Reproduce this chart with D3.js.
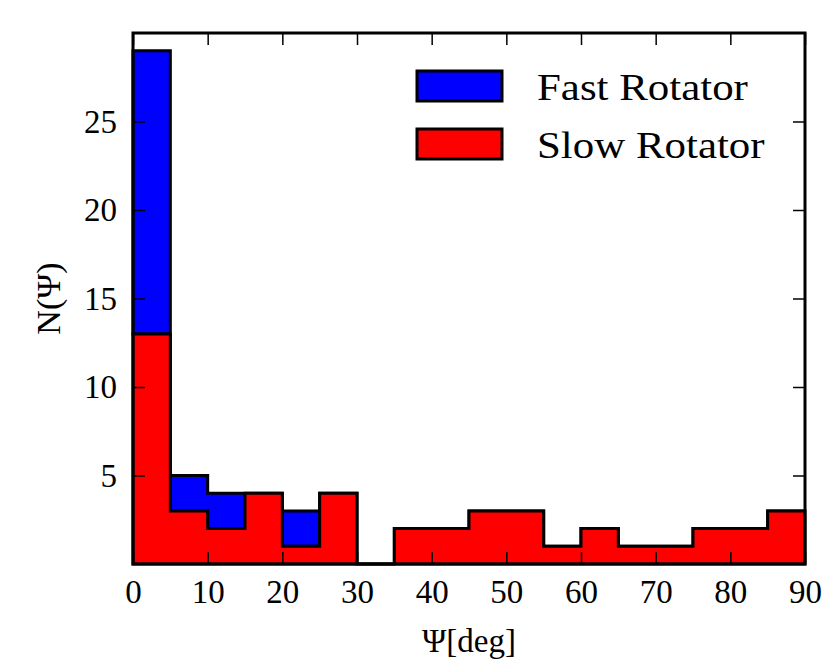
<!DOCTYPE html>
<html>
<head>
<meta charset="utf-8">
<script src="https://cdn.jsdelivr.net/npm/d3@7"></script>
<style>
  body { margin: 0; background: #fff; }
  svg text { font-family: "Liberation Serif", "DejaVu Serif", serif; fill: #000; }
  .tick line { stroke: #000; stroke-width: 1.5; }
</style>
</head>
<body>
<div id="chart"></div>
<script>
// Bin edges (deg) and counts per bin
const binEdges = [0, 5, 10, 15, 20, 25, 30, 35, 40, 45, 50, 55, 60, 65, 70, 75, 80, 85, 90];
const slowCounts = [13, 3, 2, 4, 1, 4, 0, 2, 2, 3, 3, 1, 2, 1, 1, 2, 2, 3];
const fastCounts = [16, 2, 2, 0, 2, 0, 0, 0, 0, 0, 0, 0, 0, 0, 0, 0, 0, 0];
const xTicks = [0, 10, 20, 30, 40, 50, 60, 70, 80, 90];
const yTicks = [5, 10, 15, 20, 25];
const seriesNames = ['Fast Rotator', 'Slow Rotator'];
const seriesColors = ['#0000ff', '#ff0000'];

class StackedHist {
  constructor(_config) {
    this.config = {
      parentElement: _config.parentElement,
      containerWidth: 831,
      containerHeight: 664,
      margin: { top: 33, right: 26, bottom: 100, left: 133 }
    };
    this.initVis();
  }

  initVis() {
    let vis = this;
    vis.width = vis.config.containerWidth - vis.config.margin.left - vis.config.margin.right;
    vis.height = vis.config.containerHeight - vis.config.margin.top - vis.config.margin.bottom;

    vis.svg = d3.select(vis.config.parentElement).append('svg')
      .attr('width', vis.config.containerWidth)
      .attr('height', vis.config.containerHeight);

    vis.chart = vis.svg.append('g')
      .attr('transform', `translate(${vis.config.margin.left},${vis.config.margin.top})`);

    vis.xScale = d3.scaleLinear().domain([0, 90]).range([0, vis.width]);
    vis.yScale = d3.scaleLinear().domain([0, 30]).range([vis.height, 0]);

    vis.renderVis();
  }

  renderVis() {
    let vis = this;

    // stack: slow at bottom, fast on top
    const rows = binEdges.map((e, i) => {
      const j = Math.min(i, slowCounts.length - 1);
      return { x: e, slow: slowCounts[j], fast: fastCounts[j] };
    });

    const area = (lo, hi) => d3.area()
      .curve(d3.curveStepAfter)
      .x(d => vis.xScale(d.x))
      .y0(d => vis.yScale(lo(d)))
      .y1(d => vis.yScale(hi(d)));

    vis.chart.append('path')
      .datum(rows)
      .attr('d', area(d => d.slow, d => d.slow + d.fast))
      .attr('fill', seriesColors[0])
      .attr('stroke', '#000')
      .attr('stroke-width', 3)
      .attr('stroke-linejoin', 'miter');

    vis.chart.append('path')
      .datum(rows)
      .attr('d', area(d => 0, d => d.slow))
      .attr('fill', seriesColors[1])
      .attr('stroke', '#000')
      .attr('stroke-width', 3)
      .attr('stroke-linejoin', 'miter');

    // axes, ticks pointing inward on all four sides
    const tickLen = 12;
    vis.chart.append('g')
      .attr('transform', `translate(0,${vis.height})`)
      .call(d3.axisBottom(vis.xScale).tickValues(xTicks).tickSize(-tickLen).tickPadding(16))
      .call(g => g.select('.domain').remove())
      .selectAll('text').attr('font-size', 33).attr('font-family', null);

    vis.chart.append('g')
      .call(d3.axisTop(vis.xScale).tickValues(xTicks).tickSize(-tickLen).tickFormat(''))
      .call(g => g.select('.domain').remove());

    vis.chart.append('g')
      .call(d3.axisLeft(vis.yScale).tickValues(yTicks).tickSize(-tickLen).tickPadding(16))
      .call(g => g.select('.domain').remove())
      .selectAll('text').attr('font-size', 33).attr('font-family', null);

    vis.chart.append('g')
      .attr('transform', `translate(${vis.width},0)`)
      .call(d3.axisRight(vis.yScale).tickValues(yTicks).tickSize(-tickLen).tickFormat(''))
      .call(g => g.select('.domain').remove());

    vis.chart.selectAll('.tick line').attr('stroke', '#000').attr('stroke-width', 1.5);

    // frame
    vis.chart.append('rect')
      .attr('width', vis.width)
      .attr('height', vis.height)
      .attr('fill', 'none')
      .attr('stroke', '#000')
      .attr('stroke-width', 3);

    // axis labels
    vis.svg.append('text')
      .attr('x', vis.config.margin.left + vis.width / 2)
      .attr('y', 652)
      .attr('text-anchor', 'middle')
      .attr('font-size', 33)
      .text('Ψ[deg]');

    vis.svg.append('text')
      .attr('transform', `translate(60,${vis.config.margin.top + vis.height / 2}) rotate(-90)`)
      .attr('text-anchor', 'middle')
      .attr('font-size', 34)
      .text('N(Ψ)');

    // legend (text stretched a bit to match the wider serif of the original)
    const legend = vis.svg.append('g').attr('transform', 'translate(417,71)');
    seriesNames.forEach((name, i) => {
      const row = legend.append('g').attr('transform', `translate(0,${i * 58})`);
      row.append('rect')
        .attr('width', 85).attr('height', 30)
        .attr('fill', seriesColors[i])
        .attr('stroke', '#000').attr('stroke-width', 3);
      row.append('text')
        .attr('transform', 'translate(120,29) scale(1.16,1)')
        .attr('font-size', 37)
        .text(name);
    });
  }
}

new StackedHist({ parentElement: '#chart' });
</script>
</body>
</html>
